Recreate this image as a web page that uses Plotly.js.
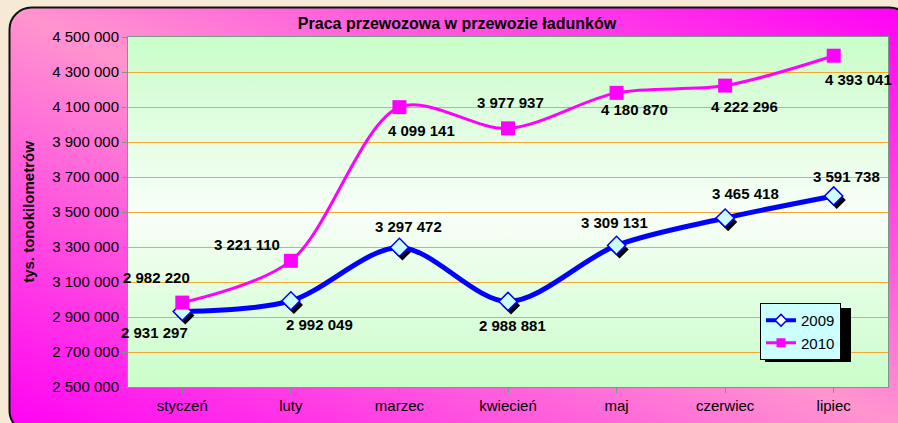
<!DOCTYPE html>
<html>
<head>
<meta charset="utf-8">
<script src="https://cdn.plot.ly/plotly-3.0.1.min.js"></script>
<style>
html,body{margin:0;padding:0;background:#f6ead6;}
#chart{width:898px;height:423px;}
</style>
</head>
<body>
<div id="chart"></div>
<script>
// ---- data ----
var months = ['styczeń', 'luty', 'marzec', 'kwiecień', 'maj', 'czerwiec', 'lipiec'];
var values2009 = [2931297, 2992049, 3297472, 2988881, 3309131, 3465418, 3591738];
var values2010 = [2982220, 3221110, 4099141, 3977937, 4180870, 4222296, 4393041];
var seriesNames = ['2009', '2010'];
var chartTitle = 'Praca przewozowa w przewozie ładunków';
var yTitle = 'tys. tonokilometrów';
var yTickVals = [2500000, 2700000, 2900000, 3100000, 3300000, 3500000, 3700000, 3900000, 4100000, 4300000, 4500000];

// label offsets in pixels (dx, dy screen-down positive)
var shift2009 = [[-28, 21], [29, 24], [9, -21], [4, 24], [-2, -23], [20, -25], [13, -19]];
var shift2010 = [[-26, -25], [-44, -16], [22, 23], [2, -26], [18, 17], [19, 21], [25, 24]];

// ---- layout geometry ----
var W = 898, H = 423;
var mL = 128, mR = 10, mT = 37, mB = 36;
var pw = W - mL - mR, ph = H - mT - mB;
var yMin = 2500000, yMax = 4500000;
var xRange = [-0.5, months.length - 0.5];
var pxPerCat = pw / months.length;
var shX = 3, shY = 4; // marker shadow offset

var FONT = 'Liberation Sans, Arial, sans-serif';

function fmt(v) {
  return String(v).replace(/\B(?=(\d{3})+(?!\d))/g, ' ');
}

function svgUri(svg) {
  return 'data:image/svg+xml;charset=utf-8,' + encodeURIComponent(svg);
}

var outerSvg =
  '<svg xmlns="http://www.w3.org/2000/svg" width="' + W + '" height="' + H + '" viewBox="0 0 ' + W + ' ' + H + '" preserveAspectRatio="none">' +
  '<defs><linearGradient id="g" x1="0" y1="1" x2="1" y2="0">' +
  '<stop offset="0" stop-color="#ff00f4"/>' +
  '<stop offset="0.5" stop-color="#ff95cf"/>' +
  '<stop offset="1" stop-color="#ff00f6"/>' +
  '</linearGradient></defs>' +
  '<rect x="0" y="0" width="' + W + '" height="' + H + '" fill="#f6ead6"/>' +
  '<rect x="9.5" y="7.5" width="' + (W + 4) + '" height="' + (H + 2) + '" rx="22" ry="22" fill="url(#g)" stroke="#111" stroke-width="2"/>' +
  '</svg>';

var plotSvg =
  '<svg xmlns="http://www.w3.org/2000/svg" width="100" height="100" viewBox="0 0 100 100" preserveAspectRatio="none">' +
  '<defs><linearGradient id="p" x1="0" y1="0" x2="0" y2="1">' +
  '<stop offset="0" stop-color="#c9fdc9"/>' +
  '<stop offset="0.5" stop-color="#f8fff8"/>' +
  '<stop offset="1" stop-color="#c9fdc9"/>' +
  '</linearGradient></defs>' +
  '<rect x="0" y="0" width="100" height="100" fill="url(#p)"/>' +
  '</svg>';

var xIdx = months.map(function (m, i) { return i; });

var style2009 = {
  line: {color: '#0000ff', width: 5, shape: 'spline', smoothing: 0.9},
  marker: {symbol: 'diamond', size: 14, color: '#ccffff', line: {color: '#0000ff', width: 1.5}}
};
var style2010 = {
  line: {color: '#ff00ff', width: 3, shape: 'spline', smoothing: 0.9},
  marker: {symbol: 'square', size: 14, color: '#ff00ff', line: {width: 0}}
};

var traces = [
  // shadow of 2009 diamonds
  {
    x: xIdx, y: values2009, xaxis: 'x2', yaxis: 'y2',
    type: 'scatter', mode: 'markers', showlegend: false, hoverinfo: 'skip',
    marker: {symbol: 'diamond', size: 14, color: '#000000', line: {width: 0}}
  },
  {
    x: xIdx, y: values2009, xaxis: 'x3', yaxis: 'y3', name: seriesNames[0],
    type: 'scatter', mode: 'lines+markers', showlegend: false,
    line: style2009.line, marker: style2009.marker
  },
  {
    x: xIdx, y: values2010, xaxis: 'x3', yaxis: 'y3', name: seriesNames[1],
    type: 'scatter', mode: 'lines+markers', showlegend: false,
    line: style2010.line, marker: style2010.marker
  },
  // legend entries (smaller markers as in the reference legend)
  {
    x: [null], y: [null], xaxis: 'x3', yaxis: 'y3', name: seriesNames[0],
    type: 'scatter', mode: 'lines+markers', showlegend: true,
    line: {color: '#0000ff', width: 4},
    marker: {symbol: 'diamond', size: 9, color: '#ffffff', line: {color: '#0000ff', width: 1.5}}
  },
  {
    x: [null], y: [null], xaxis: 'x3', yaxis: 'y3', name: seriesNames[1],
    type: 'scatter', mode: 'lines+markers', showlegend: true,
    line: {color: '#ff00ff', width: 3},
    marker: {symbol: 'square', size: 9, color: '#ff00ff', line: {width: 0}}
  }
];

var annotations = [];
function addLabels(vals, shifts) {
  vals.forEach(function (v, i) {
    annotations.push({
      x: i, y: v, xref: 'x', yref: 'y', text: fmt(v), showarrow: false,
      xshift: shifts[i][0], yshift: -shifts[i][1],
      font: {family: FONT, size: 15, color: '#000', weight: 'bold'}
    });
  });
}
addLabels(values2009, shift2009);
addLabels(values2010, shift2010);

var axisColor = '#789888';
var layout = {
  width: W, height: H,
  margin: {l: mL, r: mR, t: mT, b: mB, pad: 0},
  paper_bgcolor: '#f6ead6',
  plot_bgcolor: 'rgba(0,0,0,0)',
  separators: ', ',
  font: {family: FONT, size: 15, color: '#000'},
  title: {
    text: chartTitle, xref: 'container', yref: 'container',
    x: 457 / W, xanchor: 'center', y: 1 - 23 / H, yanchor: 'middle',
    font: {family: FONT, size: 16, color: '#000', weight: 'bold'}
  },
  xaxis: {
    domain: [0, 1], range: xRange, anchor: 'y',
    tickmode: 'array', tickvals: xIdx, ticktext: months,
    showgrid: false, zeroline: false,
    showline: true, linecolor: axisColor, linewidth: 1, mirror: true,
    ticks: 'outside', ticklen: 5, tickcolor: axisColor,
    tickfont: {family: FONT, size: 15, color: '#000'},
    fixedrange: true
  },
  yaxis: {
    domain: [0, 1], range: [yMin, yMax], anchor: 'x',
    tickmode: 'array', tickvals: yTickVals, ticktext: yTickVals.map(fmt),
    showgrid: true, gridcolor: '#f7a830', gridwidth: 1, zeroline: false,
    showline: true, linecolor: axisColor, linewidth: 1, mirror: true,
    ticks: 'outside', ticklen: 5, tickcolor: axisColor,
    tickfont: {family: FONT, size: 15, color: '#000'},
    title: {text: yTitle, standoff: 14, font: {family: FONT, size: 15, color: '#000', weight: 'bold'}},
    fixedrange: true
  },
  xaxis2: {
    domain: [shX / pw, 1], range: [xRange[0], xRange[1] - shX / pxPerCat], anchor: 'y2',
    visible: false, fixedrange: true
  },
  yaxis2: {
    domain: [0, 1 - shY / ph], range: [yMin + shY / ph * (yMax - yMin), yMax], anchor: 'x2',
    visible: false, fixedrange: true
  },
  xaxis3: {domain: [0, 1], range: xRange, anchor: 'y3', visible: false, fixedrange: true},
  yaxis3: {domain: [0, 1], range: [yMin, yMax], anchor: 'x3', visible: false, fixedrange: true},
  showlegend: true,
  legend: {
    x: (760 - mL) / pw, y: (mT + ph - 303) / ph, xanchor: 'left', yanchor: 'top',
    bgcolor: '#ccffff', bordercolor: '#000', borderwidth: 1,
    font: {family: FONT, size: 15, color: '#000'},
    tracegroupgap: 0, itemwidth: 30
  },
  images: [
    {source: svgUri(outerSvg), xref: 'paper', yref: 'paper',
     x: -mL / pw, y: 1 + mT / ph, sizex: W / pw, sizey: H / ph,
     xanchor: 'left', yanchor: 'top', sizing: 'stretch', layer: 'below'},
    {source: svgUri(plotSvg), xref: 'paper', yref: 'paper',
     x: 0, y: 1, sizex: 1, sizey: 1,
     xanchor: 'left', yanchor: 'top', sizing: 'stretch', layer: 'below'}
  ],
  shapes: [
    {type: 'rect', xref: 'paper', yref: 'paper', layer: 'above',
     x0: (765 - mL) / pw, x1: (851 - mL) / pw, y0: (mT + ph - 362) / ph, y1: (mT + ph - 308) / ph,
     fillcolor: '#000', line: {width: 0}}
  ],
  annotations: annotations,
  hovermode: false
};

Plotly.newPlot('chart', traces, layout, {displayModeBar: false, staticPlot: true});
</script>
</body>
</html>
